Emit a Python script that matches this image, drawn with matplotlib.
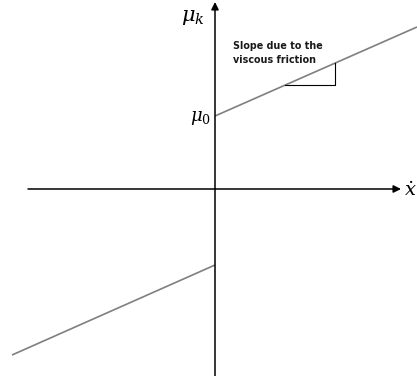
import matplotlib.pyplot as plt

plt.rcParams['mathtext.fontset'] = 'dejavuserif'

# friction coefficient vs sliding velocity (sketch units)
vel_pos = [0, 202]
mu_pos = [73, 162]
vel_neg = [-203, 0]
mu_neg = [-166, -76]
# slope triangle corners
tri_x = [70, 120, 120]
tri_y = [104, 104, 126]

fig = plt.figure(figsize=(4.17, 3.76), dpi=100)
ax = fig.add_axes([0, 0, 1, 1])
ax.set_xlim(-215, 202)
ax.set_ylim(-187, 189)
ax.axis('off')

# axes with arrows
ax.annotate('', xy=(186, 0), xytext=(-187, 0),
            arrowprops=dict(arrowstyle='-|>', color='black', lw=1.1,
                            mutation_scale=11, shrinkA=0, shrinkB=0))
ax.annotate('', xy=(0, 187), xytext=(0, -187),
            arrowprops=dict(arrowstyle='-|>', color='black', lw=1.1,
                            mutation_scale=11, shrinkA=0, shrinkB=0))

ax.plot(vel_pos, mu_pos, color='#7f7f7f', lw=1.2, solid_capstyle='butt')
ax.plot(vel_neg, mu_neg, color='#7f7f7f', lw=1.2, solid_capstyle='butt')
ax.plot(tri_x, tri_y, color='black', lw=0.8)

ax.text(-22, 172, r'$\mu_k$', fontsize=15, ha='center', va='center')
ax.text(-4, 71, r'$\mu_0$', fontsize=13, ha='right', va='center')
ax.text(195, -2, r'$\dot{x}$', fontsize=14, ha='center', va='center')
ax.text(18, 136, 'Slope due to the\nviscous friction', fontsize=6.9,
        fontweight='bold', ha='left', va='center', linespacing=1.45,
        color='#1a1a1a')

fig.savefig('out.png', dpi=100)
